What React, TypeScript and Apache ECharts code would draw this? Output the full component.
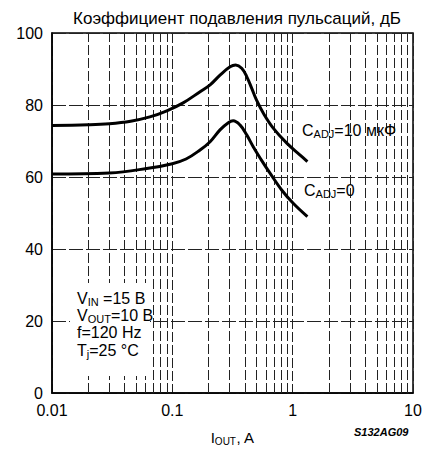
import React, { useEffect, useRef } from "react";
import * as echarts from "echarts";

const upperCurve: [number, number][] = [
  [0.01, 74.3], [0.02, 74.5], [0.03, 74.8], [0.045, 75.5], [0.065, 76.7],
  [0.09, 78.4], [0.123, 80.6], [0.17, 83.7], [0.206, 85.6], [0.249, 88.3],
  [0.302, 90.6], [0.336, 91.1], [0.377, 90.2], [0.415, 87.9], [0.457, 84.6],
  [0.5, 81.4], [0.571, 77.7], [0.692, 73.5], [0.893, 69.4], [1.153, 66.1],
  [1.326, 64.3],
];
const lowerCurve: [number, number][] = [
  [0.01, 60.8], [0.03, 61.1], [0.065, 62.5], [0.1, 63.7], [0.13, 65.0],
  [0.17, 67.5], [0.206, 69.8], [0.249, 73.1], [0.292, 75.1], [0.32, 75.6],
  [0.366, 74.4], [0.415, 71.7], [0.47, 68.4], [0.55, 64.7], [0.65, 61.0],
  [0.81, 56.4], [1.01, 52.7], [1.326, 49.0],
];
const minorGridX: number[] = [
  0.02, 0.03, 0.04, 0.05, 0.06, 0.07, 0.08, 0.09,
  0.2, 0.3, 0.4, 0.5, 0.6, 0.7, 0.8, 0.9,
  2, 3, 4, 5, 6, 7, 8, 9,
];
const titleText = "Коэффициент подавления пульсаций, дБ";
const conditionLines: string[] = [
  "{m|V}{s|IN}{m| =15 В}",
  "{m|V}{s|OUT}{m|=10 В}",
  "{m|f=120 Hz}",
  "{m|T}{s|j}{m|=25 °C}",
];
const FONT = "Liberation Sans, Arial, sans-serif";

export default function App() {
  const ref = useRef<HTMLDivElement>(null);
  useEffect(() => {
    const chart = echarts.init(ref.current!, null, { renderer: "svg" });
    const sub = { fontSize: 11, fontFamily: FONT, color: "#000", padding: [7, 0, 0, 0] };
    const main = { fontSize: 16, fontFamily: FONT, color: "#000" };
    chart.setOption({
      animation: false,
      backgroundColor: "#fff",
      title: {
        text: titleText,
        left: 232,
        top: 5,
        textAlign: "center",
        textStyle: { fontFamily: FONT, fontSize: 17, fontWeight: "normal", color: "#000" },
      },
      grid: {
        left: 52, top: 33, width: 361, height: 360,
        show: true, borderColor: "#000", borderWidth: 1.5, backgroundColor: "transparent",
      },
      xAxis: {
        type: "log",
        logBase: 10,
        min: 0.01,
        max: 10,
        axisLine: { show: true, lineStyle: { color: "#000", width: 1.5 } },
        axisTick: { show: false },
        axisLabel: {
          color: "#000", fontFamily: FONT, fontSize: 16, margin: 9,
          formatter: (v: number) => String(+v.toPrecision(3)),
        },
        splitLine: { show: true, lineStyle: { color: "#222", width: 1, type: [10, 3] } },
        name: "{m|I}{s|OUT}{m|, A}",
        nameLocation: "middle",
        nameGap: 36,
        nameTextStyle: { rich: { m: { ...main, fontSize: 15 }, s: { ...sub, fontSize: 10 } } },
      },
      yAxis: {
        type: "value",
        min: 0,
        max: 100,
        interval: 20,
        axisLine: { show: true, lineStyle: { color: "#000", width: 1.5 } },
        axisTick: { show: false },
        axisLabel: { color: "#000", fontFamily: FONT, fontSize: 16, margin: 9 },
        splitLine: { show: true, lineStyle: { color: "#222", width: 1, type: [14, 3] } },
      },
      series: [
        {
          type: "line",
          data: upperCurve,
          smooth: 0.4,
          showSymbol: false,
          lineStyle: { color: "#000", width: 3 },
          z: 5,
          markLine: {
            silent: true,
            symbol: "none",
            label: { show: false },
            lineStyle: { color: "#222", width: 1, type: [10, 3] },
            data: minorGridX.map((x) => ({ xAxis: x })),
          },
        },
        {
          type: "line",
          data: lowerCurve,
          smooth: 0.4,
          showSymbol: false,
          lineStyle: { color: "#000", width: 3 },
          z: 5,
        },
      ],
      graphic: [
        { type: "rect", shape: { x: 70, y: 283, width: 80, height: 93 }, style: { fill: "#fff" }, z: 10 },
        ...conditionLines.map((t, i) => ({
          type: "text", x: 77, y: 289 + i * 17.5, z: 11,
          style: { text: t, rich: { m: main, s: sub } },
        })),
        {
          type: "text", x: 302, y: 121, z: 11,
          style: { text: "{m|C}{s|ADJ}{m|=10 мкФ}", rich: { m: main, s: sub } },
        },
        {
          type: "text", x: 304, y: 181, z: 11,
          style: { text: "{m|C}{s|ADJ}{m|=0}", rich: { m: main, s: sub } },
        },
        {
          type: "text", x: 354, y: 426, z: 11,
          style: {
            text: "S132AG09",
            fill: "#000",
            font: "italic bold 11px Liberation Sans, Arial, sans-serif",
          },
        },
      ],
    });
    return () => chart.dispose();
  }, []);
  return <div ref={ref} style={{ position: "fixed", left: 0, top: 0, width: 441, height: 451 }} />;
}
